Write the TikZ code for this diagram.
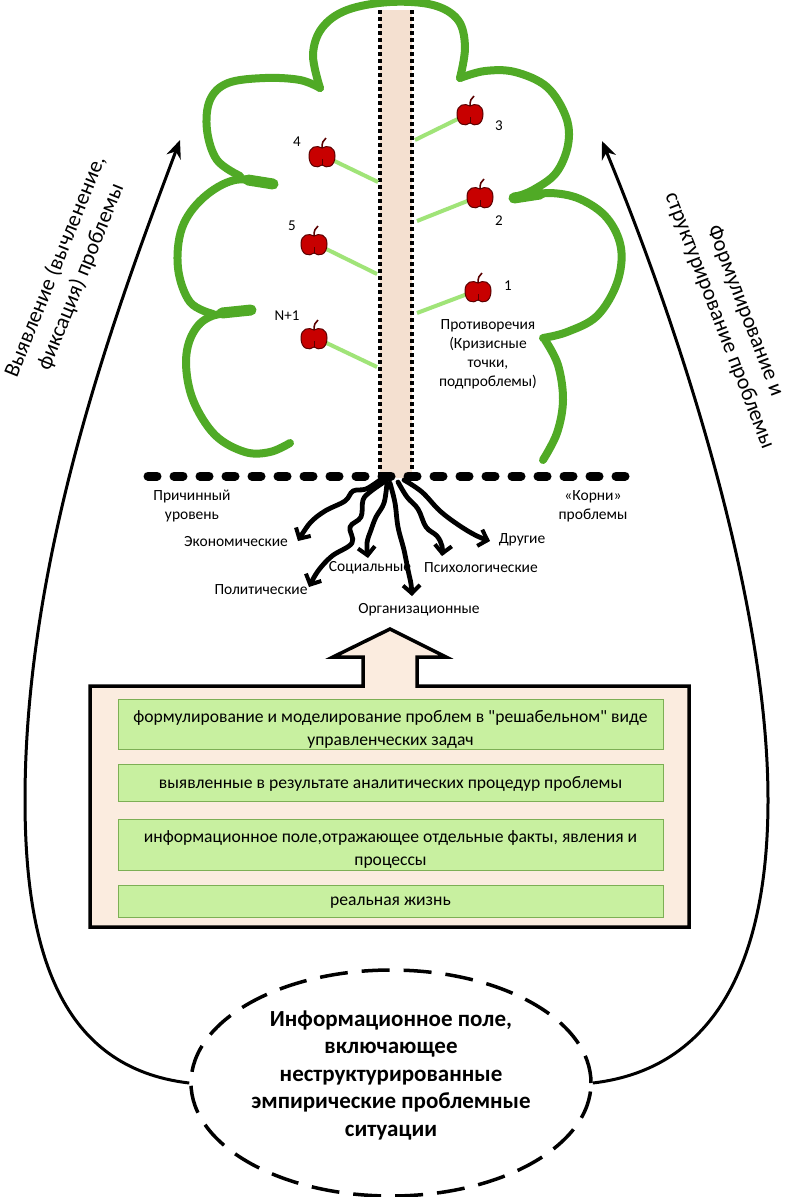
\documentclass[tikz,border=0pt]{standalone}
\usepackage{fontspec}
\setmainfont{Carlito}[Ligatures=TeXOff]
\usetikzlibrary{arrows.meta,shapes.geometric}
\definecolor{leaf}{RGB}{80,170,38}
\definecolor{twigc}{RGB}{160,228,120}
\definecolor{applered}{RGB}{200,0,0}
\definecolor{appleedge}{RGB}{90,0,0}
\definecolor{trunkfill}{RGB}{244,224,208}
\definecolor{boxfill}{RGB}{251,236,223}
\definecolor{gfill}{RGB}{200,240,160}
\definecolor{gedge}{RGB}{125,175,85}
\newcommand\drawapple[1]{%
  \begin{scope}[shift={(#1)}]
    \fill[applered, draw=appleedge, line width=1pt] (0,10) .. controls (-5,14) and (-13,12) .. (-13,1) .. controls (-13,-9) and (-5,-10) .. (0,-7) .. controls (5,-10) and (13,-9) .. (13,1) .. controls (13,12) and (5,14) .. (0,10) -- cycle;
    \draw[appleedge, line width=1.6pt] (0,-7) .. controls (0,-12) and (1,-15) .. (4,-17);
    \draw[appleedge, line width=1pt] (0,10) -- (0,4);
  \end{scope}}
\begin{document}
\begin{tikzpicture}[x=1pt,y=-1pt,
  crown/.style={draw=leaf, line width=8pt, line cap=round, line join=round},
  spike/.style={draw=leaf, line width=11pt, line cap=round},
  branchline/.style={draw=twigc, line width=4pt},
  trunkedge/.style={draw=black, line width=3.5pt, dash pattern=on 4pt off 3pt},
  ground/.style={draw=black, line width=9pt, line cap=round, dash pattern=on 9pt off 17pt},
  rootline/.style={draw=black, line width=4.8pt, line cap=round, line join=round, -{Straight Barb[length=8pt,width=17pt,line width=4pt]}},
  sidearrow/.style={draw=black, line width=3pt, -{Stealth[length=18pt,width=15pt]}},
  sidetext/.style={align=center, inner sep=0pt, font=\fontsize{22}{27.5}\selectfont},
  gbox/.style={draw=gedge, fill=gfill, line width=1pt, minimum width=545pt, inner sep=0pt},
  gtext/.style={align=center, inner sep=0pt, font=\fontsize{17.6}{23}\selectfont},
  lab/.style={inner sep=0pt, font=\fontsize{15.5}{19}\selectfont, align=center},
  numlab/.style={inner sep=0pt, font=\fontsize{15}{18}\selectfont},
  applenode/.style={circle, minimum size=25pt, inner sep=0pt}
]
\useasboundingbox (0,0) rectangle (790,1197);
\fill[white] (0,0) rectangle (790,1197);

% crown
\draw[crown] plot[smooth, tension=0.6] coordinates {(290,443) (270,452) (245,452) (215,435) (193,400) (186,362) (193,333) (212,316) (250,311)};
\draw[crown] plot[smooth, tension=0.6] coordinates {(213,314) (190,302) (178,268) (182,228) (203,198) (235,180) (272,183)};
\draw[crown] plot[smooth, tension=0.6] coordinates {(240,176) (217,160) (207,130) (210,100) (228,83) (265,78) (300,80) (320,88)};
\draw[crown] plot[smooth, tension=0.6] coordinates {(320,88) (313,55) (322,28) (347,10) (390,2) (433,5) (458,20) (465,47) (460,78)};
\draw[crown] plot[smooth, tension=0.6] coordinates {(460,78) (485,71) (515,72) (547,87) (566,117) (568,145) (556,173) (533,190) (515,197)};
\draw[crown] plot[smooth, tension=0.6] coordinates {(525,197) (550,193) (580,199) (607,218) (621,248) (617,283) (597,316) (567,332) (543,338)};
\draw[crown] plot[smooth, tension=0.6] coordinates {(545,340) (558,365) (563,400) (557,433) (543,460)};
\draw[spike] (222,313) -- (251,310);
\draw[spike] (248,180) -- (273,184);
\draw[spike] (540,194) -- (514,198);

% trunk
\fill[trunkfill] (380,10) rectangle (412,478);
\draw[trunkedge] (380,10) -- (380,478);
\draw[trunkedge] (412,10) -- (412,478);

% apples
\node[applenode] (a3) at (470,113) {};
\node[applenode] (a2) at (480,196) {};
\node[applenode] (a1) at (478,290) {};
\node[applenode] (a4) at (322,155) {};
\node[applenode] (a5) at (314,243) {};
\node[applenode] (aN) at (314,337) {};
\coordinate (b3) at (415,140);
\coordinate (b2) at (417,221);
\coordinate (b1) at (417,313);
\coordinate (b4) at (378,182);
\coordinate (b5) at (377,274);
\coordinate (bN) at (377,367);
\draw[branchline] (a3) -- (b3);
\draw[branchline] (a2) -- (b2);
\draw[branchline] (a1) -- (b1);
\draw[branchline] (a4) -- (b4);
\draw[branchline] (a5) -- (b5);
\draw[branchline] (aN) -- (bN);
\drawapple{a3}\drawapple{a2}\drawapple{a1}\drawapple{a4}\drawapple{a5}\drawapple{aN}
\node[numlab] (n3) at (499,126) {3};
\node[numlab] (n2) at (499,221) {2};
\node[numlab] (n1) at (508,286) {1};
\node[numlab] (n4) at (297,142) {4};
\node[numlab] (n5) at (292,226) {5};
\node[numlab] (nN) at (287,316) {N+1};
\node[lab] (contr) at (488,354) {Противоречия\\(Кризисные\\точки,\\подпроблемы)};

% ground
\draw[ground] (148,476) -- (640,476);

% root labels
\node[lab] (cause) at (192,506) {Причинный\\уровень};
\node[lab] (rootsl) at (593,506) {«Корни»\\проблемы};
\node[lab] (econ) at (236,542) {Экономические};
\node[lab] (polit) at (261,590) {Политические};
\node[lab] (soc) at (370,568) {Социальные};
\node[lab] (org) at (419,610) {Организационные};
\node[lab] (psy) at (481,568) {Психологические};
\node[lab] (oth) at (522,540) {Другие};

% roots
\draw[rootline] plot[smooth, tension=0.6] coordinates {(380,480) (366,489) (353,491) (345,501) (325,511) (310,523) (298,541)};
\draw[rootline] plot[smooth, tension=0.6] coordinates {(384,482) (370,492) (363,500) (361,517) (350,527) (352,543) (332,556) (318,571) (309,587)};
\draw[rootline] plot[smooth, tension=0.6] coordinates {(387,483) (384,503) (376,517) (371,530) (367,543) (368,558)};
\draw[rootline] plot[smooth, tension=0.6] coordinates {(390,483) (395,503) (398,527) (404,550) (408,570) (411,584) (412,596)};
\draw[rootline] plot[smooth, tension=0.6] coordinates {(398,482) (407,497) (418,509) (426,527) (437,536) (442,546) (442,556)};
\draw[rootline] plot[smooth, tension=0.6] coordinates {(404,480) (422,492) (440,511) (460,526) (477,536) (490,541)};

% bottom box with arrow
\draw[black, line width=3.5pt, fill=boxfill, line join=miter] (90,686) -- (363,686) -- (363,657) -- (333,657) -- (390,629) -- (446,657) -- (417,657) -- (417,686) -- (689,686) -- (689,927) -- (90,927) -- cycle;
\node[gbox, minimum height=50pt] (g1) at (390.5,724) {};
\node[gbox, minimum height=37pt] (g2) at (390.5,782.5) {};
\node[gbox, minimum height=51pt] (g3) at (390.5,844.5) {};
\node[gbox, minimum height=32pt] (g4) at (390.5,901) {};
\node[gtext] (g1t) at (390.5,729) {формулирование и моделирование проблем в "решабельном" виде\\управленческих задач};
\node[gtext] (g2t) at (390.5,784) {выявленные в результате аналитических процедур проблемы};
\node[gtext] (g3t) at (390.5,849) {информационное поле,отражающее отдельные факты, явления и\\процессы};
\node[gtext] (g4t) at (390.5,903) {реальная жизнь};

% ellipse
\node[ellipse, draw=black, line width=3.5pt, dash pattern=on 28pt off 14pt, minimum width=400pt, minimum height=226pt] (ell) at (391,1083) {};
\node[align=center, inner sep=0pt, font=\bfseries\fontsize{23}{27.5}\selectfont] (ellt) at (391,1075) {Информационное поле,\\включающее\\неструктурированные\\эмпирические проблемные\\ситуации};

% side arrows
\coordinate (tipL) at (180,140);
\coordinate (tipR) at (602,141);
\draw[sidearrow] (ell.west) .. controls (60,1068) and (25,950) .. (25,800) .. controls (25,550) and (120,300) .. (tipL);
\draw[sidearrow] (ell.east) .. controls (722,1068) and (768,950) .. (768,800) .. controls (768,600) and (680,330) .. (tipR);
\node[sidetext, rotate=68] (tl) at (68,272) {Выявление (вычленение,\\фиксация) проблемы};
\node[sidetext, rotate=-69] (tr) at (732,316) {Формулирование и\\структурирование проблемы};
\end{tikzpicture}
\end{document}
